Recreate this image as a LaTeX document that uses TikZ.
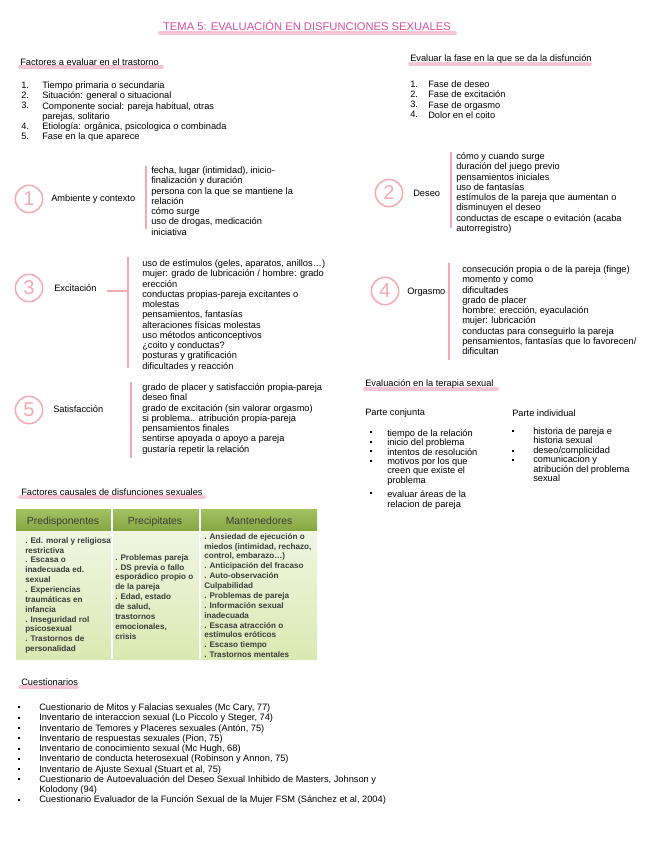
\documentclass[tikz,border=0pt]{standalone}
\usepackage{fontspec}
\setmainfont{Liberation Sans}

\definecolor{rosatit}{HTML}{D8509C}
\definecolor{rosamarca}{HTML}{F7C4D8}
\definecolor{rosa}{HTML}{F4A9B3}
\definecolor{verdecab}{HTML}{A3C263}
\definecolor{verdeosc}{HTML}{86A843}
\definecolor{verdeclaro}{HTML}{F1F6E2}
\definecolor{verdefondo}{HTML}{DAE9B2}
\definecolor{grisfuente}{HTML}{3C3C3C}

\begin{document}
\begin{tikzpicture}[x=0.75pt, y=-0.75pt,
    every node/.style={inner sep=0pt, font=\fontsize{6.95}{7.7}\selectfont},
    linea/.style={anchor=west},
    bloque/.style={anchor=north west, align=left},
    lista/.style={anchor=north west, align=left, font=\fontsize{6.95}{7.1}\selectfont},
    marca/.style={rosamarca, line width=2.8pt, line cap=round},
    barra/.style={rosa, line width=1.6pt},
    numero/.style={circle, draw=rosa, line width=1.1pt, minimum size=20.5pt, text=rosa, font=\fontsize{15}{15}\selectfont},
    tabla/.style={anchor=north west, align=left, text=grisfuente, font=\fontsize{6.1}{7.4}\selectfont\bfseries},
    cabtabla/.style={anchor=base, text=grisfuente, font=\fontsize{7.8}{8}\selectfont}]
    \fill[white] (0,0) rectangle (656,848);
    \useasboundingbox (0,0) rectangle (656,848);

    % Titulo
    \draw[marca] (160,33) -- (455,33);
    \node[text=rosatit, font=\fontsize{8.4}{9}\selectfont] (titulo) at (307,26) {TEMA 5: EVALUACIÓN EN DISFUNCIONES SEXUALES};

    % Factores a evaluar
    \draw[marca] (20,67) -- (162,67);
    \node[linea] (fact) at (20,62) {Factores a evaluar en el trastorno};
    \node[bloque] (fact-n) at (21,81.5) {1.\\2.\\3.\\[7.7pt]4.\\5.};
    \node[bloque] (fact-t) at (42,81.5) {Tiempo primaria o secundaria\\Situación: general o situacional\\Componente social: pareja habitual, otras\\parejas, solitario\\Etiología: orgánica, psicologica o combinada\\Fase en la que aparece};

    % Fase
    \draw[marca] (410,64) -- (590,64);
    \node[linea] (fase) at (410,59) {Evaluar la fase en la que se da la disfunción};
    \node[bloque] (fase-n) at (410,80.5) {1.\\2.\\3.\\4.};
    \node[bloque] (fase-t) at (428,80.5) {Fase de deseo\\Fase de excitación\\Fase de orgasmo\\Dolor en el coito};

    % 1 Ambiente
    \node[numero] (c1) at (29,199) {1};
    \node[linea] (amb) at (51,199) {Ambiente y contexto};
    \coordinate (b1a) at (146,166);
    \coordinate (b1b) at (146,229);
    \draw[barra] (b1a) -- (b1b);
    \node[bloque] (amb-t) at (151,166.5) {fecha, lugar (intimidad), inicio-\\finalización y duración\\persona con la que se mantiene la\\relación\\cómo surge\\uso de drogas, medicación\\iniciativa};

    % 2 Deseo
    \node[numero] (c2) at (389,193) {2};
    \node[linea] (des) at (413,193) {Deseo};
    \coordinate (b2a) at (451,152);
    \coordinate (b2b) at (451,228);
    \draw[barra] (b2a) -- (b2b);
    \node[bloque] (des-t) at (456,152.5) {cómo y cuando surge\\duración del juego previo\\pensamientos iniciales\\uso de fantasías\\estímulos de la pareja que aumentan o\\disminuyen el deseo\\conductas de escape o evitación (acaba\\autorregistro)};

    % 3 Excitacion
    \node[numero] (c3) at (29,288) {3};
    \node[linea] (exc) at (54,288) {Excitación};
    \coordinate (b3a) at (128,257);
    \coordinate (b3b) at (128,368);
    \coordinate (exc-l) at (107,291);
    \draw[barra] (b3a) -- (b3b);
    \draw[barra] (exc-l) -- (exc-l -| b3a);
    \node[bloque] (exc-t) at (142,259.5) {uso de estímulos (geles, aparatos, anillos…)\\mujer: grado de lubricación / hombre: grado\\erección\\conductas propias-pareja excitantes o\\molestas\\pensamientos, fantasías\\alteraciones físicas molestas\\uso métodos anticonceptivos\\¿coito y conductas?\\posturas y gratificación\\dificultades y reacción};

    % 4 Orgasmo
    \node[numero] (c4) at (385,291) {4};
    \node[linea] (org) at (407,292) {Orgasmo};
    \coordinate (b4a) at (449,263);
    \coordinate (b4b) at (449,360);
    \draw[barra] (b4a) -- (b4b);
    \node[bloque] (org-t) at (462,265.5) {consecución propia o de la pareja (finge)\\momento y como\\dificultades\\grado de placer\\hombre: erección, eyaculación\\mujer: lubricación\\conductas para conseguirlo la pareja\\pensamientos, fantasías que lo favorecen/\\dificultan};

    % 5 Satisfaccion
    \node[numero] (c5) at (29,410) {5};
    \node[linea] (sat) at (53,409) {Satisfacción};
    \coordinate (b5a) at (131,382);
    \coordinate (b5b) at (131,458);
    \draw[barra] (b5a) -- (b5b);
    \node[bloque] (sat-t) at (142,383.5) {grado de placer y satisfacción propia-pareja\\deseo final\\grado de excitación (sin valorar orgasmo)\\si problema.. atribución propia-pareja\\pensamientos finales\\sentirse apoyada o apoyo a pareja\\gustaría repetir la relación};

    % Terapia sexual
    \draw[marca] (365,389) -- (497,389);
    \node[linea] (ter) at (365,384) {Evaluación en la terapia sexual};
    \node[linea] (conj) at (365,413) {Parte conjunta};
    \node[linea] (indiv) at (512,413) {Parte individual};
    \foreach \yy in {432,442,451,461,493}
        \fill (371,\yy) +(-1.1,-1.1) rectangle +(1.1,1.1);
    \node[lista] (conj-t) at (387,429) {tiempo de la relación\\inicio del problema\\intentos de resolución\\motivos por los que\\creen que existe el\\problema\\[3.5pt]evaluar áreas de la\\relacion de pareja};
    \foreach \yy in {431,451,460}
        \fill (513,\yy) +(-1.1,-1.1) rectangle +(1.1,1.1);
    \node[lista] (indiv-t) at (533,427.5) {historia de pareja e\\historia sexual\\deseo/complicidad\\comunicacion y\\atribución del problema\\sexual};

    % Factores causales (tabla)
    \draw[marca] (20,497) -- (204,497);
    \node[linea] (caus) at (21,492) {Factores causales de disfunciones sexuales};
    \shade[top color=verdeclaro, bottom color=verdefondo] (16,530) rectangle (317,659);
    \shade[top color=verdecab, bottom color=verdeosc] (16,509) rectangle (317,530);
    \draw[white, line width=1.2pt] (112,509) -- (112,659);
    \draw[white, line width=1.2pt] (200,509) -- (200,659);
    \node[cabtabla] (pred) at (63,524) {Predisponentes};
    \node[cabtabla] (prec) at (155,524) {Precipitates};
    \node[cabtabla] (mant) at (259,524) {Mantenedores};
    \node[tabla] (pred-t) at (25,537) {. Ed. moral y religiosa\\restrictiva\\. Escasa o\\inadecuada ed.\\sexual\\. Experiencias\\traumáticas en\\infancia\\. Inseguridad rol\\psicosexual\\. Trastornos de\\personalidad};
    \node[tabla] (prec-t) at (115,554) {. Problemas pareja\\. DS previa o fallo\\esporádico propio o\\de la pareja\\. Edad, estado\\de salud,\\trastornos\\emocionales,\\crisis};
    \node[tabla] (mant-t) at (204,533) {. Ansiedad de ejecución o\\miedos (intimidad, rechazo,\\control, embarazo…)\\. Anticipación del fracaso\\. Auto-observación\\Culpabilidad\\. Problemas de pareja\\. Información sexual\\inadecuada\\. Escasa atracción o\\estímulos eróticos\\. Escaso tiempo\\. Trastornos mentales};

    % Cuestionarios
    \draw[marca] (20,687) -- (77,687);
    \node[linea] (cuest) at (21,682) {Cuestionarios};
    \foreach \yy in {707,718,728,738,749,759,769,779,800}
        \fill (19,\yy) +(-1.1,-1.1) rectangle +(1.1,1.1);
    \node[bloque] (cuest-t) at (39,703.5) {Cuestionario de Mitos y Falacias sexuales (Mc Cary, 77)\\Inventario de interaccion sexual (Lo Piccolo y Steger, 74)\\Inventario de Temores y Placeres sexuales (Antón, 75)\\Inventario de respuestas sexuales (Pion, 75)\\Inventario de conocimiento sexual (Mc Hugh, 68)\\Inventario de conducta heterosexual (Robinson y Annon, 75)\\Inventario de Ajuste Sexual (Stuart et al, 75)\\Cuestionario de Autoevaluación del Deseo Sexual Inhibido de Masters, Johnson y\\Kolodony (94)\\Cuestionario Evaluador de la Función Sexual de la Mujer FSM (Sánchez et al, 2004)};
\end{tikzpicture}
\end{document}
